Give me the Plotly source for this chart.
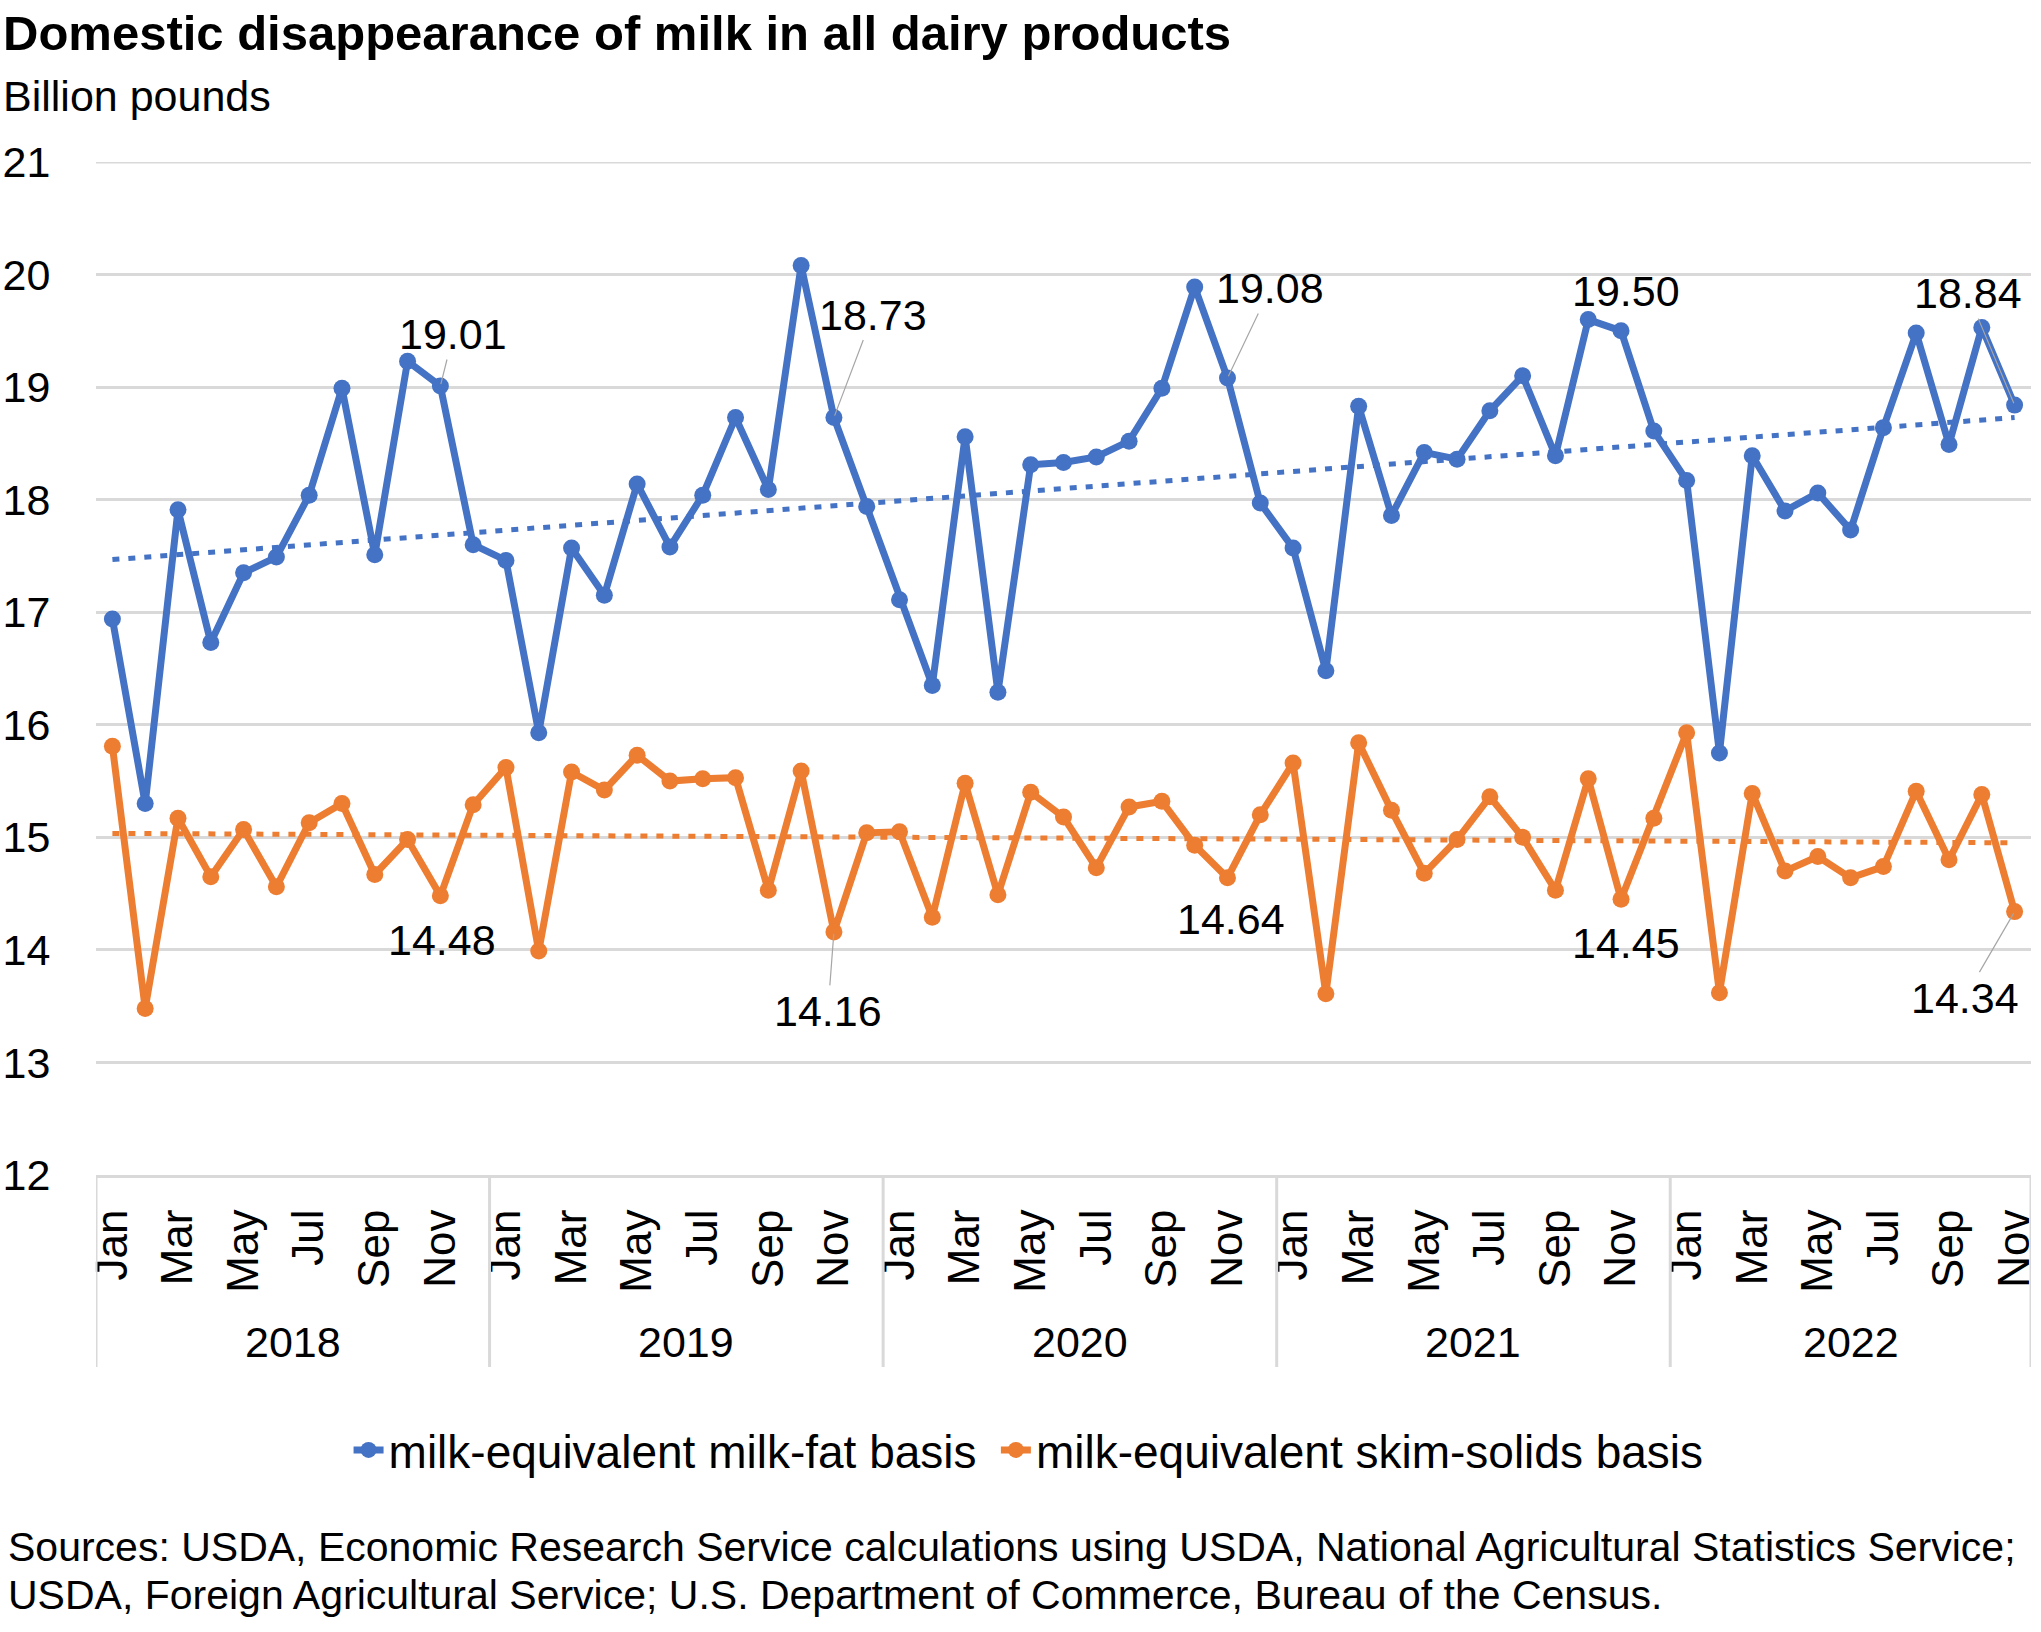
import numpy as np
import plotly.graph_objects as go

# ---------------- data ----------------
years = [2018, 2019, 2020, 2021, 2022]
months = ["Jan", "Feb", "Mar", "Apr", "May", "Jun", "Jul", "Aug", "Sep", "Oct", "Nov", "Dec"]
months_per_year = [12, 12, 12, 12, 11]

milk_fat = [
    16.94, 15.30, 17.91, 16.73, 17.35, 17.49, 18.04, 18.99, 17.51, 19.23, 19.01, 17.60,
    17.46, 15.93, 17.57, 17.15, 18.14, 17.58, 18.04, 18.73, 18.09, 20.08, 18.73, 17.94,
    17.11, 16.35, 18.56, 16.29, 18.31, 18.33, 18.38, 18.52, 18.99, 19.89, 19.08, 17.97,
    17.57, 16.48, 18.83, 17.86, 18.42, 18.36, 18.79, 19.10, 18.39, 19.60, 19.50, 18.61,
    18.17, 15.75, 18.39, 17.90, 18.06, 17.73, 18.64, 19.48, 18.49, 19.53, 18.84,
]
skim_solids = [
    15.81, 13.48, 15.17, 14.65, 15.07, 14.56, 15.13, 15.30, 14.67, 14.98, 14.48, 15.29,
    15.62, 13.99, 15.58, 15.42, 15.73, 15.50, 15.52, 15.53, 14.53, 15.59, 14.16, 15.04,
    15.05, 14.29, 15.48, 14.49, 15.40, 15.18, 14.73, 15.27, 15.32, 14.93, 14.64, 15.20,
    15.66, 13.61, 15.84, 15.24, 14.68, 14.98, 15.36, 15.00, 14.53, 15.52, 14.45, 15.17,
    15.93, 13.62, 15.39, 14.70, 14.83, 14.64, 14.74, 15.41, 14.80, 15.38, 14.34,
]
series_names = ["milk-equivalent milk-fat basis", "milk-equivalent skim-solids basis"]
y_ticks = [12, 13, 14, 15, 16, 17, 18, 19, 20, 21]
labelled_month = "Nov"

title = "Domestic disappearance of milk in all dairy products"
subtitle = "Billion pounds"
source_lines = [
    "Sources: USDA, Economic Research Service calculations using USDA, National Agricultural Statistics Service;",
    "USDA, Foreign Agricultural Service; U.S. Department of Commerce, Bureau of the Census.",
]

# ---------------- derived categories ----------------
cats, cat_month, cat_year = [], [], []
for y, n in zip(years, months_per_year):
    for m in months[:n]:
        cats.append(f"{m} {y}")
        cat_month.append(m)
        cat_year.append(y)

BLUE = "#4472C4"
ORANGE = "#ED7D31"
GRID = "#D9D9D9"
FONT = "Liberation Sans, Arial, sans-serif"

W, H = 2041, 1632
L, R, T, B = 92, 3, 162, 457
PW, PH = W - L - R, H - T - B


def pxx(X):
    return (X - L) / PW


def pyy(Y):
    return (H - B - Y) / PH


fig = go.Figure()

# top gridline (plotly omits the grid line that sits on the plot edge)
fig.add_shape(type="line", xref="paper", yref="y", x0=0, x1=1, y0=max(y_ticks), y1=max(y_ticks),
              line=dict(color=GRID, width=3), layer="below")

idx = np.arange(len(cats))
for vals, col, name, leg in [(milk_fat, BLUE, series_names[0], "legend"),
                             (skim_solids, ORANGE, series_names[1], "legend2")]:
    fig.add_trace(go.Scatter(
        x=cats, y=vals, mode="lines+markers", name=name, legend=leg,
        line=dict(color=col, width=7),
        marker=dict(color=col, size=17),
    ))
    # linear trendline (as in the original spreadsheet chart)
    k, c = np.polyfit(idx, np.array(vals), 1)
    fig.add_trace(go.Scatter(
        x=cats, y=k * idx + c, mode="lines", showlegend=False, hoverinfo="skip",
        line=dict(color=col, width=5, dash="7px,9px"),
    ))

# data labels (pixel offset of label centre, leader line?)
label_style = {
    (0, 2018): (13, -52, True), (0, 2019): (39, -103, True), (0, 2020): (43, -90, True),
    (0, 2021): (5, -40, False), (0, 2022): (-47, -112, True),
    (1, 2018): (2, 44, False), (1, 2019): (-6, 79, True), (1, 2020): (4, 41, False),
    (1, 2021): (5, 44, False), (1, 2022): (-50, 86, True),
}
for si, vals in enumerate([milk_fat, skim_solids]):
    for i, (m, y) in enumerate(zip(cat_month, cat_year)):
        if m != labelled_month:
            continue
        dx, dy, leader = label_style[(si, y)]
        common = dict(x=cats[i], y=vals[i], xref="x", yref="y", text=f"{vals[i]:.2f}",
                      font=dict(family=FONT, size=43, color="black"))
        if leader:
            fig.add_annotation(**common, showarrow=True, ax=dx, ay=dy, arrowhead=0,
                               arrowwidth=1.2, arrowcolor="#A6A6A6", standoff=2)
        else:
            fig.add_annotation(**common, showarrow=False, xshift=dx, yshift=-dy)

# year labels and separators
start = 0
for y, n in zip(years, months_per_year):
    fig.add_annotation(x=start + (n - 1) / 2, y=pyy(1342), xref="x", yref="paper",
                       text=str(y), showarrow=False, yanchor="middle",
                       font=dict(family=FONT, size=43, color="black"))
    fig.add_shape(type="line", x0=start - 0.5, x1=start - 0.5, y0=0, y1=pyy(1367),
                  xref="x", yref="paper", line=dict(color=GRID, width=3))
    start += n
fig.add_shape(type="line", x0=start - 0.5, x1=start - 0.5, y0=0, y1=pyy(1367),
              xref="x", yref="paper", line=dict(color=GRID, width=3))

# title / subtitle / sources
fig.add_annotation(x=pxx(-4), y=pyy(33), xref="paper", yref="paper", text=f"<b>{title}</b>",
                   showarrow=False, xanchor="left", yanchor="middle",
                   font=dict(family=FONT, size=49, color="black"))
fig.add_annotation(x=pxx(-4), y=pyy(96), xref="paper", yref="paper", text=subtitle,
                   showarrow=False, xanchor="left", yanchor="middle",
                   font=dict(family=FONT, size=43, color="black"))
for line, Y in zip(source_lines, [1547, 1595]):
    fig.add_annotation(x=pxx(1), y=pyy(Y), xref="paper", yref="paper", text=line,
                       showarrow=False, xanchor="left", yanchor="middle",
                       font=dict(family=FONT, size=41, color="black"))

legend_common = dict(orientation="h", xanchor="left", y=pyy(1450), yanchor="middle",
                     font=dict(family=FONT, size=46, color="black"), itemwidth=30,
                     bgcolor="rgba(0,0,0,0)")

fig.update_layout(
    width=W, height=H,
    margin=dict(l=L, r=R, t=T, b=B),
    plot_bgcolor="white", paper_bgcolor="white",
    font=dict(family=FONT, size=43, color="black"),
    showlegend=True,
    legend=dict(x=pxx(346), **legend_common),
    legend2=dict(x=pxx(997), **legend_common),
    xaxis=dict(
        type="category", categoryorder="array", categoryarray=cats,
        range=[-0.5, len(cats) - 0.5],
        tickmode="array", tickvals=cats[::2], ticktext=cat_month[::2],
        tickangle=-90, tickfont=dict(family=FONT, size=44, color="black"),
        ticks="outside", ticklen=14, tickcolor="rgba(0,0,0,0)",
        showgrid=False, showline=True, linecolor=GRID, linewidth=3, zeroline=False,
    ),
    yaxis=dict(
        range=[12, 21], tickmode="array", tickvals=y_ticks,
        tickfont=dict(family=FONT, size=43, color="black"),
        ticks="outside", ticklen=36, tickcolor="rgba(0,0,0,0)",
        showgrid=True, gridcolor=GRID, gridwidth=3, zeroline=False, showline=False,
    ),
)

fig.write_html("out.html", config={"displayModeBar": False},
               post_script="document.body.style.margin='0px';")
